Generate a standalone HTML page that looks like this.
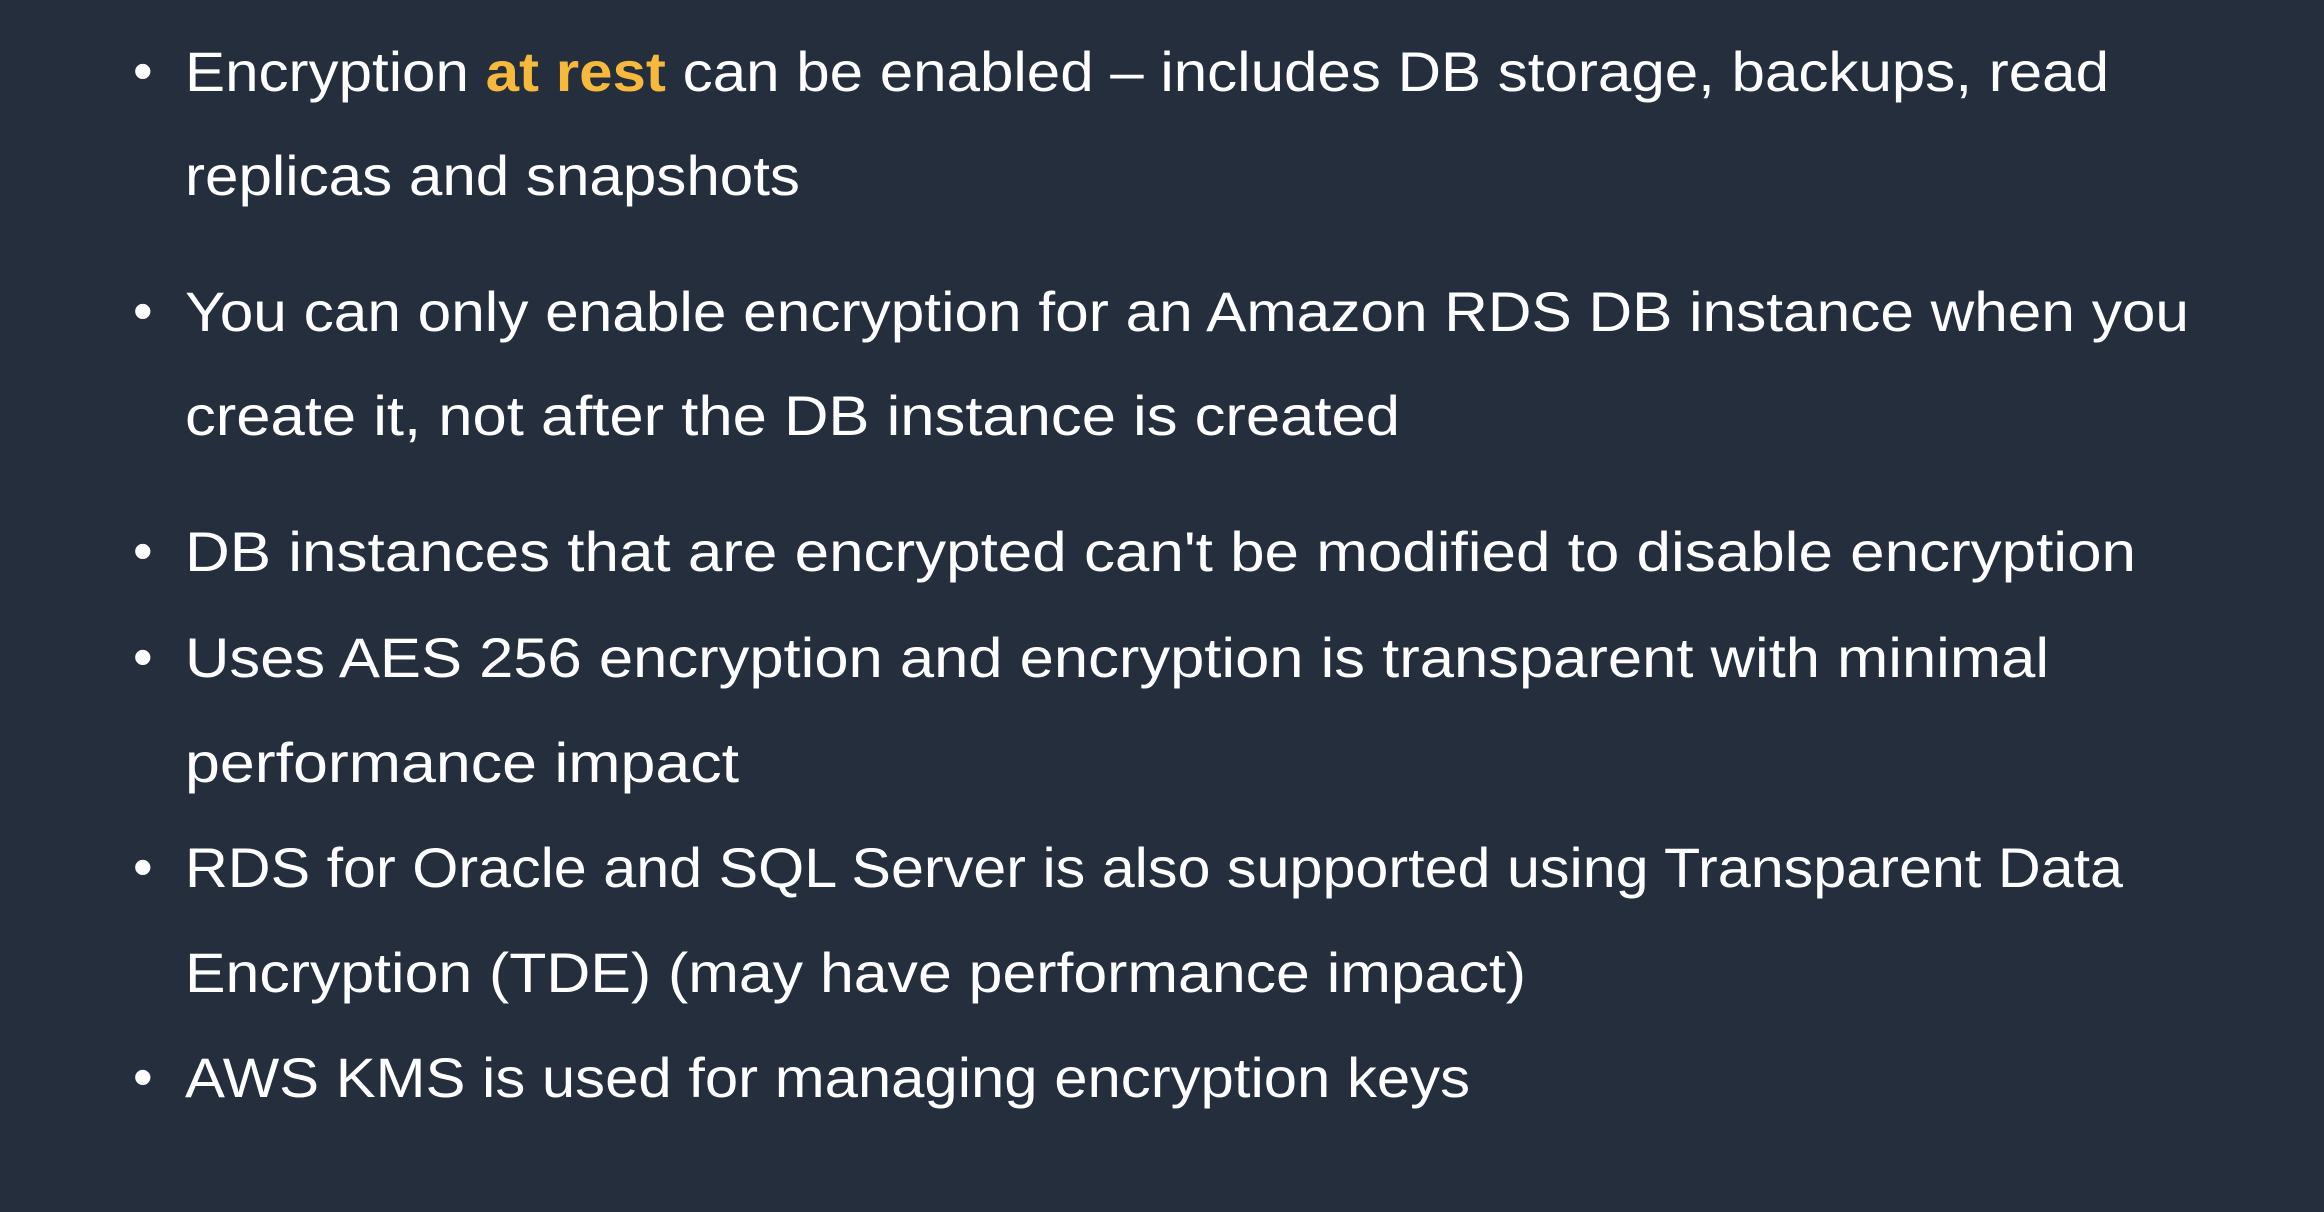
<!DOCTYPE html>
<html><head><meta charset="utf-8"><style>
html,body{margin:0;padding:0;background:#252e3d;}
svg{display:block}
text{font-family:"Liberation Sans",sans-serif;font-size:56px;fill:#ffffff;}
.y{fill:#f6b93b;font-weight:bold}
</style></head><body>
<svg width="2324" height="1212" viewBox="0 0 2324 1212" xmlns="http://www.w3.org/2000/svg">
<rect width="2324" height="1212" fill="#252e3d"/>
<g>
<text x="133" y="90">•</text>
<text x="185" y="91" textLength="1924" lengthAdjust="spacingAndGlyphs">Encryption <tspan class="y">at rest</tspan> can be enabled – includes DB storage, backups, read</text>
<text x="185" y="195" textLength="615" lengthAdjust="spacingAndGlyphs">replicas and snapshots</text>
<text x="133" y="330">•</text>
<text x="185" y="331" textLength="2004" lengthAdjust="spacingAndGlyphs">You can only enable encryption for an Amazon RDS DB instance when you</text>
<text x="185" y="435" textLength="1215" lengthAdjust="spacingAndGlyphs">create it, not after the DB instance is created</text>
<text x="133" y="570">•</text>
<text x="185" y="571" textLength="1951" lengthAdjust="spacingAndGlyphs">DB instances that are encrypted can't be modified to disable encryption</text>
<text x="133" y="676">•</text>
<text x="185" y="677" textLength="1864" lengthAdjust="spacingAndGlyphs">Uses AES 256 encryption and encryption is transparent with minimal</text>
<text x="185" y="782" textLength="554" lengthAdjust="spacingAndGlyphs">performance impact</text>
<text x="133" y="886">•</text>
<text x="185" y="887" textLength="1938" lengthAdjust="spacingAndGlyphs">RDS for Oracle and SQL Server is also supported using Transparent Data</text>
<text x="185" y="992" textLength="1341" lengthAdjust="spacingAndGlyphs">Encryption (TDE) (may have performance impact)</text>
<text x="133" y="1096">•</text>
<text x="185" y="1097" textLength="1285" lengthAdjust="spacingAndGlyphs">AWS KMS is used for managing encryption keys</text>
</g>
</svg>
</body></html>
